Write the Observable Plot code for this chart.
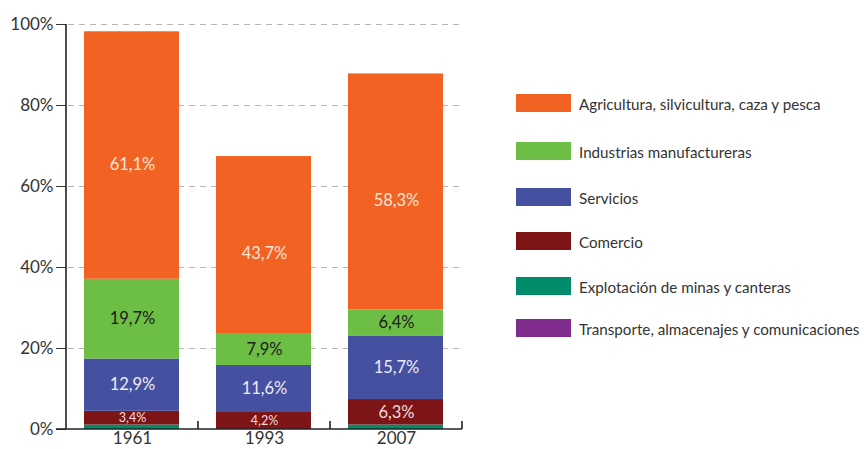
<!DOCTYPE html>
<html>
<head>
<meta charset="utf-8">
<script src="https://cdn.jsdelivr.net/npm/d3@7"></script>
<script src="https://cdn.jsdelivr.net/npm/@observablehq/plot@0.6"></script>
<style>
  body { margin: 0; background: #fff; }
  #wrap { position: relative; width: 864px; height: 449px; font-family: Lato, "Open Sans", sans-serif; }
  #legend { position: absolute; left: 0; top: 0; }
  .sw { position: absolute; left: 516px; width: 55px; height: 18px; }
  .lt { position: absolute; left: 579px; font-size: 15.2px; color: #333; white-space: nowrap; line-height: 18px; }
</style>
</head>
<body>
<div id="wrap"><div id="chart"></div><div id="legend"></div></div>
<script>
const years = ["1961", "1993", "2007"];
// sectors bottom to top
const sectors = [
  "Transporte, almacenajes y comunicaciones",
  "Explotación de minas y canteras",
  "Comercio",
  "Servicios",
  "Industrias manufactureras",
  "Agricultura, silvicultura, caza y pesca"
];
const transporte = [0, 0, 0];
const minas = [1.1, 0, 1.1];
const comercio = [3.4, 4.2, 6.3];
const servicios = [12.9, 11.6, 15.7];
const industrias = [19.7, 7.9, 6.4];
const agricultura = [61.1, 43.7, 58.3];
const colors = ["#7f2c8e", "#008b6b", "#7d1416", "#4650a0", "#6dbe45", "#f26223"];
const yTicks = [0, 20, 40, 60, 80, 100];

const series = [transporte, minas, comercio, servicios, industrias, agricultura];
const data = [];
years.forEach((yr, i) => {
  sectors.forEach((s, j) => data.push({year: yr, sector: s, value: series[j][i]}));
});
const fmt = v => v.toFixed(1).replace(".", ",") + "%";

function labelMark(sector, fill, size, dy) {
  return Plot.text(data, Plot.stackY({
    x: "year", y: "value", z: "sector",
    text: d => d.sector === sector ? fmt(d.value) : null,
    fill, fontSize: size, dy
  }));
}

const frameLines = (index, scales, values, dim) => {
  const g = d3.create("svg:g");
  const {marginLeft, marginTop, marginBottom, marginRight, width, height} = dim;
  const y0 = height - marginBottom;
  g.append("line").attr("x1", marginLeft).attr("x2", marginLeft).attr("y1", marginTop).attr("y2", y0)
    .attr("stroke", "#222").attr("stroke-width", 1.6);
  g.append("line").attr("x1", marginLeft - 10).attr("x2", width - marginRight).attr("y1", y0).attr("y2", y0)
    .attr("stroke", "#222").attr("stroke-width", 1.6);
  const xs = scales.x;
  let bw = xs.bandwidth;
  bw = typeof bw === "function" ? bw() : bw;
  if (bw == null) bw = (width - marginLeft - marginRight) / years.length;
  years.forEach(yr => {
    const x = xs(yr) + bw;
    g.append("line").attr("x1", x).attr("x2", x).attr("y1", y0).attr("y2", y0 - 8)
      .attr("stroke", "#222").attr("stroke-width", 1.6);
  });
  return g.node();
};

const chart = Plot.plot({
  width: 864,
  height: 449,
  marginLeft: 66,
  marginRight: 402,
  marginTop: 24,
  marginBottom: 20,
  style: {fontFamily: "Lato, 'Open Sans', sans-serif", fontSize: "17px", color: "#333", background: "#fff"},
  x: {domain: years, padding: 0, label: null, tickSize: 0, tickPadding: 2},
  y: {domain: [0, 100], ticks: yTicks, tickFormat: d => d + "%", tickSize: 10, tickPadding: 3, label: null},
  color: {domain: sectors, range: colors},
  marks: [
    Plot.ruleY(yTicks.filter(t => t > 0), {stroke: "#b5b5b5", strokeDasharray: "6,5", insetLeft: 2}),
    Plot.barY(data, Plot.stackY({x: "year", y: "value", z: "sector", fill: "sector", insetLeft: 18, insetRight: 19})),
    labelMark(sectors[5], "#fde6da", 16.5, 9),
    labelMark(sectors[4], "#1c1c1c", 16.5, 0),
    labelMark(sectors[3], "#ececf6", 16.5, 0),
    Plot.text(data, Plot.stackY({
      x: "year", y: "value", z: "sector",
      text: d => d.sector === sectors[2] ? fmt(d.value) : null,
      fill: "#f3dcdc", fontSize: d => d.value < 5 ? 12.5 : 16.5
    })),
    frameLines
  ]
});
document.getElementById("chart").appendChild(chart);

// legend (top to bottom = reversed stack order)
const legendTops = [94, 142, 188, 232, 277, 319];
const leg = document.getElementById("legend");
sectors.slice().reverse().forEach((s, i) => {
  const c = colors[sectors.length - 1 - i];
  const sw = document.createElement("div");
  sw.className = "sw"; sw.style.top = legendTops[i] + "px"; sw.style.background = c;
  const t = document.createElement("div");
  t.className = "lt"; t.style.top = (legendTops[i] + 1) + "px"; t.textContent = s;
  leg.appendChild(sw); leg.appendChild(t);
});
</script>
</body>
</html>
